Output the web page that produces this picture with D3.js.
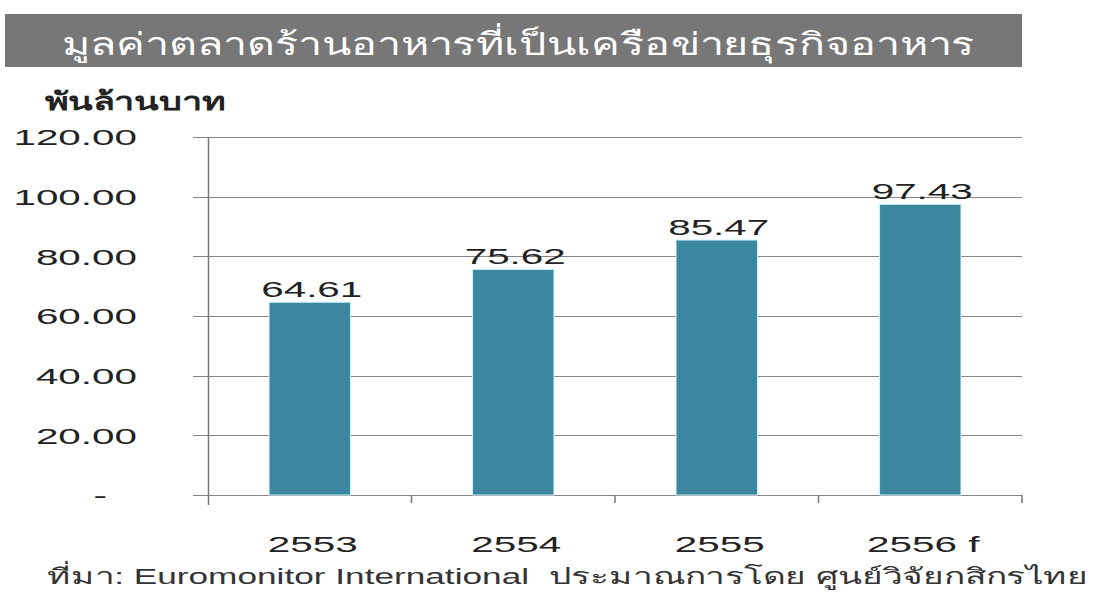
<!DOCTYPE html>
<html>
<head>
<meta charset="utf-8">
<script src="https://cdn.jsdelivr.net/npm/d3@7"></script>
<style>
  body { margin: 0; background: #fff; }
  text { font-family: Arial, "Liberation Sans", "Noto Sans", sans-serif; fill: #222; }
</style>
</head>
<body>
<svg width="1097" height="597"></svg>
<script>
// values (พันล้านบาท)
var years = ['2553', '2554', '2555', '2556 f'];
var values = [64.61, 75.62, 85.47, 97.43];
var yTicks = [0, 20, 40, 60, 80, 100, 120];

var titleText = 'มูลค่าตลาดร้านอาหารที่เป็นเครือข่ายธุรกิจอาหาร';
var unitText = 'พันล้านบาท';
var sourceText = 'ที่มา: Euromonitor International \u00a0ประมาณการโดย ศูนย์วิจัยกสิกรไทย';

var svg = d3.select('svg');

// the source picture is stretched sideways, so the digits get a wide scale
var stretch = 1.88;

// plot box (not "top": that name is taken by window.top)
var plotLeft = 208, plotRight = 1022, plotTop = 137, plotBottom = 495;

var x = d3.scaleBand()
  .domain(years)
  .range([plotLeft, plotRight])
  .paddingInner(0.6)
  .paddingOuter(0.3);

var y = d3.scaleLinear()
  .domain([0, 120])
  .range([plotBottom, plotTop]);

// title bar
svg.append('rect')
  .attr('x', 5).attr('y', 14)
  .attr('width', 1017).attr('height', 53)
  .attr('fill', '#777777');

svg.append('text')
  .attr('x', 62).attr('y', 55)
  .attr('textLength', 913)
  .attr('lengthAdjust', 'spacingAndGlyphs')
  .style('font-size', '31px')
  .style('fill', '#fff')
  .text(titleText);

// unit label
svg.append('text')
  .attr('x', 45).attr('y', 110)
  .attr('textLength', 180)
  .attr('lengthAdjust', 'spacingAndGlyphs')
  .style('font-size', '25px')
  .style('font-weight', 'bold')
  .text(unitText);

// gridlines
svg.append('g')
  .selectAll('line')
  .data(yTicks)
  .enter()
  .append('line')
    .attr('x1', plotLeft - 15)
    .attr('x2', plotRight)
    .attr('y1', function(d) { return Math.round(y(d)) + 0.5; })
    .attr('y2', function(d) { return Math.round(y(d)) + 0.5; })
    .attr('stroke', '#858585')
    .attr('stroke-width', 1);

// y axis labels
var yAxis = svg.append('g')
  .attr('transform', 'translate(' + plotLeft + ',0)')
  .call(d3.axisLeft(y)
    .tickValues(yTicks)
    .tickSize(0)
    .tickFormat(function(d) { return d === 0 ? '-' : d3.format('.2f')(d); }));

yAxis.select('.domain').remove();
yAxis.selectAll('.tick text')
  .attr('x', function(d) { return d === 0 ? -101 / stretch : -71 / stretch; })
  .attr('dy', '0.36em')
  .attr('transform', 'scale(' + stretch + ',1)')
  .style('font-size', '21.5px')
  .style('fill', '#222')
  .style('font-family', 'Arial, "Liberation Sans", sans-serif');

// vertical axis line
svg.append('line')
  .attr('x1', plotLeft + 0.5).attr('x2', plotLeft + 0.5)
  .attr('y1', plotTop).attr('y2', plotBottom + 10)
  .attr('stroke', '#777')
  .attr('stroke-width', 1.5);

// x tick marks at band edges
var edges = years.map(function(d) { return x(d) - x.step() * x.paddingOuter(); });
edges.push(plotRight);
svg.append('g')
  .selectAll('line')
  .data(edges.slice(1))
  .enter()
  .append('line')
    .attr('x1', function(d) { return d; })
    .attr('x2', function(d) { return d; })
    .attr('y1', plotBottom)
    .attr('y2', plotBottom + 8)
    .attr('stroke', '#777')
    .attr('stroke-width', 1.5);

// bars
svg.append('g')
  .selectAll('rect')
  .data(values)
  .enter()
  .append('rect')
    .attr('x', function(d, i) { return x(years[i]); })
    .attr('y', function(d) { return y(d); })
    .attr('width', x.bandwidth())
    .attr('height', function(d) { return plotBottom - y(d); })
    .attr('fill', '#3b87a0')
    .attr('stroke', '#c8f2ff')
    .attr('stroke-width', 1);

// value labels
svg.append('g')
  .selectAll('text')
  .data(values)
  .enter()
  .append('text')
    .attr('x', function(d, i) { return (x(years[i]) + x.bandwidth() / 2 + 2) / stretch; })
    .attr('y', function(d) { return y(d) - 5; })
    .attr('transform', 'scale(' + stretch + ',1)')
    .attr('text-anchor', 'middle')
    .style('font-size', '21.5px')
    .text(function(d) { return d3.format('.2f')(d); });

// category labels
svg.append('g')
  .selectAll('text')
  .data(years)
  .enter()
  .append('text')
    .attr('x', function(d) { return (x(d) + x.bandwidth() / 2 + 3) / stretch; })
    .attr('y', 552)
    .attr('transform', 'scale(' + stretch + ',1)')
    .attr('text-anchor', 'middle')
    .style('font-size', '21.5px')
    .text(function(d) { return d; });

// source note
svg.append('text')
  .attr('x', 47).attr('y', 584)
  .attr('textLength', 1041)
  .attr('lengthAdjust', 'spacingAndGlyphs')
  .style('font-size', '22px')
  .style('fill', '#333')
  .text(sourceText);
</script>
</body>
</html>
